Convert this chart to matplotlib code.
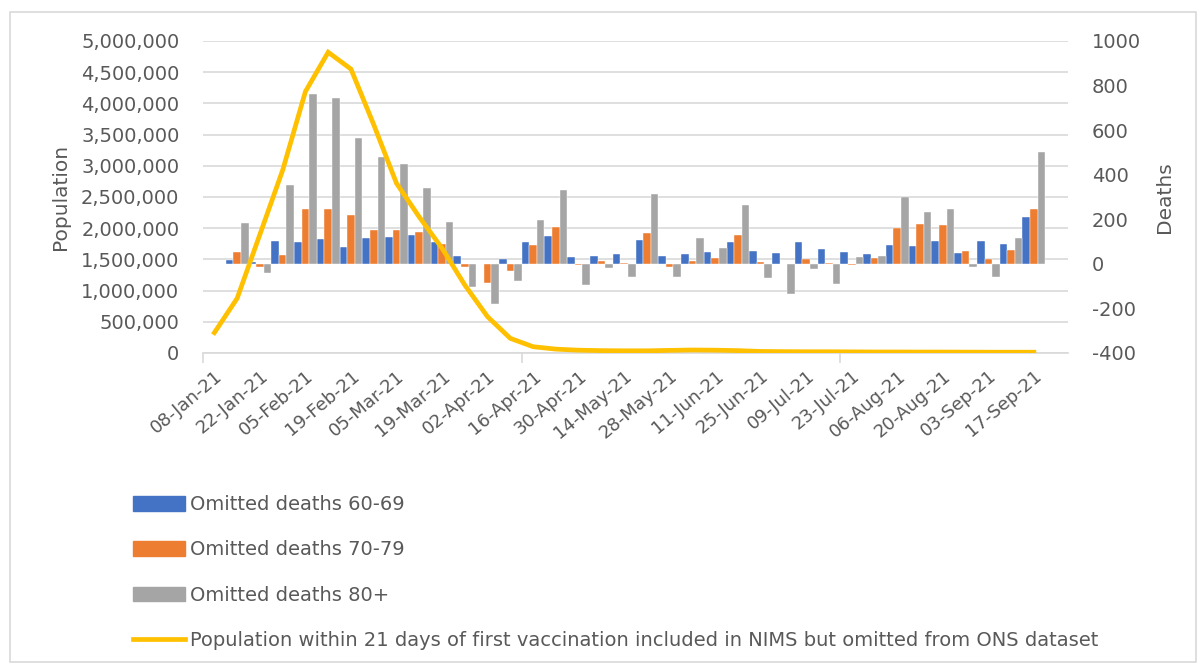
import numpy as np
import matplotlib
matplotlib.use('Agg')
from matplotlib import pyplot as plt
from matplotlib.patches import Rectangle
from matplotlib.lines import Line2D
from matplotlib.ticker import FuncFormatter

plt.rcParams['font.family'] = ['DejaVu Sans']
plt.rcParams['axes.unicode_minus'] = False

# weekly categories (last one has no data)
dates = ['08-Jan-21', '15-Jan-21', '22-Jan-21', '29-Jan-21', '05-Feb-21', '12-Feb-21',
         '19-Feb-21', '26-Feb-21', '05-Mar-21', '12-Mar-21', '19-Mar-21', '26-Mar-21',
         '02-Apr-21', '09-Apr-21', '16-Apr-21', '23-Apr-21', '30-Apr-21', '07-May-21',
         '14-May-21', '21-May-21', '28-May-21', '04-Jun-21', '11-Jun-21', '18-Jun-21',
         '25-Jun-21', '02-Jul-21', '09-Jul-21', '16-Jul-21', '23-Jul-21', '30-Jul-21',
         '06-Aug-21', '13-Aug-21', '20-Aug-21', '27-Aug-21', '03-Sep-21', '10-Sep-21',
         '17-Sep-21', '24-Sep-21']

# population line, 08-Jan .. 17-Sep
population = [326e3, 876e3, 1.90e6, 2.93e6, 4.19e6, 4.82e6, 4.55e6, 3.66e6, 2.72e6,
              2.18e6, 1.68e6, 1.09e6, 582e3, 235e3, 101e3, 62e3, 45e3, 38e3, 35e3,
              35e3, 42e3, 48e3, 45e3, 38e3, 25e3, 22e3, 20e3, 20e3, 18e3, 16e3,
              16e3, 15e3, 15e3, 14e3, 13e3, 13e3, 13e3]

# omitted deaths, 15-Jan .. 17-Sep
deaths_60_69 = [19, 10, 103, 97, 111, 75, 118, 120, 129, 100, 34, 0, 21, 99, 123, 30, 34, 46,
                109, 34, 42, 55, 99, 57, 49, 97, 66, 55, 43, 85, 79, 102, 49, 103, 90, 209]
deaths_70_79 = [54, -12, 40, 247, 245, 218, 151, 153, 145, 91, -12, -88, -30, 85, 166, -3, 15, 6,
                138, -16, 15, 25, 130, 9, -2, 22, 6, -7, 25, 159, 180, 175, 58, 21, 63, 247]
deaths_80 = [184, -42, 356, 761, 745, 564, 480, 446, 341, 190, -106, -179, -79, 199, 331, -94, -19, -61,
             313, -61, 115, 69, 262, -64, -135, -21, -91, 31, 34, 302, 233, 247, -16, -60, 118, 501]

labels = ['Omitted deaths 60-69', 'Omitted deaths 70-79', 'Omitted deaths 80+',
          'Population within 21 days of first vaccination included in NIMS but omitted from ONS dataset']
colors = ['#4472C4', '#ED7D31', '#A5A5A5']
line_color = '#FFC000'
txt = '#595959'
grid = '#D9D9D9'

W, H = 1202, 666
fig = plt.figure(figsize=(W / 100, H / 100), dpi=100)
rect = [203 / W, 1 - 353 / H, 865 / W, 312 / H]

ax = fig.add_axes(rect)          # population axis + gridlines
ax2 = ax.twinx()                 # deaths bars
ax3 = ax.twinx()                 # line on top

cats = np.arange(len(dates))
n_line = len(population)
bar_x = cats[1:1 + len(deaths_60_69)]
w = 1 / 3

ax.set_xlim(-0.5, len(dates) - 0.5)
ax.set_ylim(0, 5e6)
ax.set_yticks(np.arange(0, 5e6 + 1, 5e5))
ax.yaxis.set_major_formatter(FuncFormatter(lambda v, p: f'{int(v):,}'))
ax.grid(axis='y', color=grid, linewidth=1.2)
ax.set_axisbelow(True)

for a in (ax, ax2, ax3):
    for s in a.spines.values():
        s.set_visible(False)
ax.spines['bottom'].set_visible(True)
ax.spines['bottom'].set_color(grid)
ax.spines['bottom'].set_linewidth(1.2)

ax2.bar(bar_x - w, deaths_60_69, w, color=colors[0], edgecolor='white', linewidth=0.3)
ax2.bar(bar_x, deaths_70_79, w, color=colors[1], edgecolor='white', linewidth=0.3)
ax2.bar(bar_x + w, deaths_80, w, color=colors[2], edgecolor='white', linewidth=0.3)
ax2.set_ylim(-400, 1000)
ax2.set_yticks(np.arange(-400, 1001, 200))

ax3.plot(cats[:n_line], population, color=line_color, linewidth=3.4, solid_joinstyle='miter')
ax3.set_ylim(0, 5e6)
ax3.set_yticks([])

ax.set_xticks(cats[:n_line:2])
ax.set_xticklabels(dates[:n_line:2], rotation=40, ha='right', rotation_mode='anchor',
                   color=txt, fontsize=13)
ax.set_xticks([-0.5, 13.5, 27.5], minor=True)
ax.tick_params(axis='x', which='major', length=0, pad=10)
ax.tick_params(axis='x', which='minor', length=7, color=grid, width=1.2)
ax.tick_params(axis='y', length=0, pad=17, labelcolor=txt, labelsize=14)
ax2.tick_params(axis='y', length=0, pad=17, labelcolor=txt, labelsize=14)

ax.set_ylabel('Population', color=txt, fontsize=14.5, labelpad=8)
ax2.set_ylabel('Deaths', color=txt, fontsize=14.5, labelpad=10)

handles = [Rectangle((0, 0), 1, 1, color=c) for c in colors]
handles.append(Line2D([0], [0], color=line_color, linewidth=3.4))
fig.legend(handles, labels, loc='upper left', bbox_to_anchor=(133 / W, 1 - 495 / H),
           frameon=False, fontsize=14, labelcolor=txt, handlelength=2.68, handleheight=0.78,
           handletextpad=0.26, labelspacing=1.36, borderpad=0, borderaxespad=0)

fig.patches.append(Rectangle((10 / W, 4 / H), 1186 / W, 650 / H, transform=fig.transFigure,
                             fill=False, edgecolor=grid, linewidth=1.2))

fig.savefig('out.png', dpi=100)
